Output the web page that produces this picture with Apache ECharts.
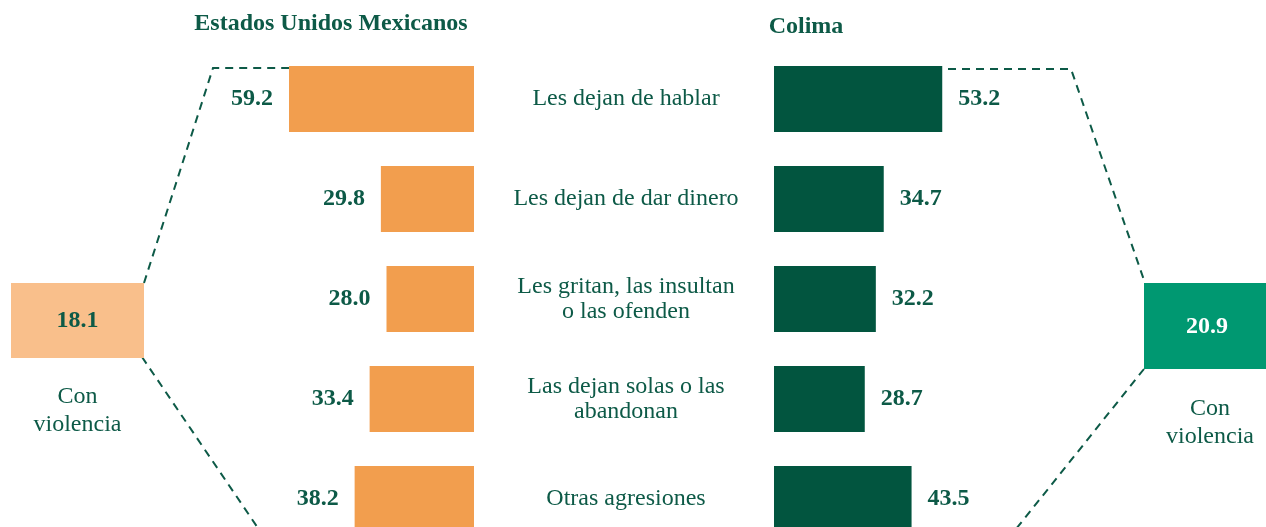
<!DOCTYPE html>
<html>
<head>
<meta charset="utf-8">
<script src="https://cdn.jsdelivr.net/npm/echarts@6/dist/echarts.min.js"></script>
<style>
  html, body { margin: 0; padding: 0; background: #ffffff; }
  #chart { width: 1266px; height: 527px; }
</style>
</head>
<body>
<div id="chart"></div>
<script>
// Tipos de violencia económica/emocional: nacional vs. Colima (%)
const categories = [
  'Les dejan de hablar',
  'Les dejan de dar dinero',
  'Les gritan, las insultan\no las ofenden',
  'Las dejan solas o las\nabandonan',
  'Otras agresiones'
];
const nacionalValues = [59.2, 29.8, 28.0, 33.4, 38.2];
const colimaValues = [53.2, 34.7, 32.2, 28.7, 43.5];
const nacionalTitle = 'Estados Unidos Mexicanos';
const colimaTitle = 'Colima';
const nacionalTotal = 18.1;
const colimaTotal = 20.9;
const totalLabel = 'Con\nviolencia';

const FONT = '"Liberation Serif", "Times New Roman", serif';
const TEXT = '#0D5A47';
const ORANGE = '#F29E4E';
const GREEN = '#02553F';
const LIGHT_ORANGE = '#F9BF8B';
const TEAL = '#009871';

const chart = echarts.init(document.getElementById('chart'), null, { renderer: 'canvas' });

const dash = { stroke: TEXT, lineWidth: 2, lineDash: [8, 6], fill: null };

const valueLabel = (pos) => ({
  show: true,
  position: pos,
  distance: 16,
  fontFamily: FONT,
  fontWeight: 'bold',
  fontSize: 24,
  color: TEXT,
  formatter: (p) => p.value.toFixed(1)
});

const option = {
  backgroundColor: '#ffffff',
  animation: false,
  title: [
    { text: nacionalTitle, left: 326, top: 7, textAlign: 'center',
      textStyle: { fontFamily: FONT, fontWeight: 'bold', fontSize: 24, color: TEXT } },
    { text: colimaTitle, left: 801, top: 10, textAlign: 'center',
      textStyle: { fontFamily: FONT, fontWeight: 'bold', fontSize: 24, color: TEXT } }
  ],
  grid: [
    { left: 224, right: 792, top: 49, bottom: -22, outerBoundsMode: 'none', containLabel: false },
    { left: 774, right: 239, top: 49, bottom: -22, outerBoundsMode: 'none', containLabel: false }
  ],
  xAxis: [
    { gridIndex: 0, type: 'value', min: 0, max: 80, inverse: true, show: false },
    { gridIndex: 1, type: 'value', min: 0, max: 80, show: false }
  ],
  yAxis: [
    { gridIndex: 0, type: 'category', data: categories, inverse: true, show: false },
    {
      gridIndex: 1, type: 'category', data: categories, inverse: true,
      axisLine: { show: false }, axisTick: { show: false }, splitLine: { show: false },
      axisLabel: {
        show: true, margin: 148, align: 'center',
        fontFamily: FONT, fontSize: 24, lineHeight: 25, color: TEXT
      }
    }
  ],
  series: [
    {
      type: 'bar', xAxisIndex: 0, yAxisIndex: 0, data: nacionalValues,
      barWidth: 66, itemStyle: { color: ORANGE },
      label: valueLabel('left'), silent: true
    },
    {
      type: 'bar', xAxisIndex: 1, yAxisIndex: 1, data: colimaValues,
      barWidth: 66, itemStyle: { color: GREEN },
      label: valueLabel('right'), silent: true
    }
  ],
  graphic: [
    // conectores punteados
    { type: 'polyline', shape: { points: [[144, 283], [213, 68], [289, 68]] }, style: dash, silent: true },
    { type: 'polyline', shape: { points: [[142, 357], [262, 534]] }, style: dash, silent: true },
    { type: 'polyline', shape: { points: [[948, 69], [1071, 69], [1145, 283]] }, style: dash, silent: true },
    { type: 'polyline', shape: { points: [[1144, 369], [1012, 534]] }, style: dash, silent: true },
    // recuadro nacional
    { type: 'rect', shape: { x: 11, y: 283, width: 133, height: 75 }, style: { fill: LIGHT_ORANGE }, silent: true },
    { type: 'text', x: 77.5, y: 321, style: { text: nacionalTotal.toFixed(1), font: 'bold 24px ' + FONT,
      fill: TEXT, textAlign: 'center', textVerticalAlign: 'middle' }, silent: true },
    { type: 'text', x: 77.5, y: 411, style: { text: totalLabel, font: '24px ' + FONT, lineHeight: 28,
      fill: TEXT, textAlign: 'center', textVerticalAlign: 'middle' }, silent: true },
    // recuadro Colima
    { type: 'rect', shape: { x: 1144, y: 283, width: 122, height: 86 }, style: { fill: TEAL }, silent: true },
    { type: 'text', x: 1207, y: 327, style: { text: colimaTotal.toFixed(1), font: 'bold 24px ' + FONT,
      fill: '#ffffff', textAlign: 'center', textVerticalAlign: 'middle' }, silent: true },
    { type: 'text', x: 1210, y: 423, style: { text: totalLabel, font: '24px ' + FONT, lineHeight: 28,
      fill: TEXT, textAlign: 'center', textVerticalAlign: 'middle' }, silent: true }
  ]
};

chart.setOption(option);
</script>
</body>
</html>
